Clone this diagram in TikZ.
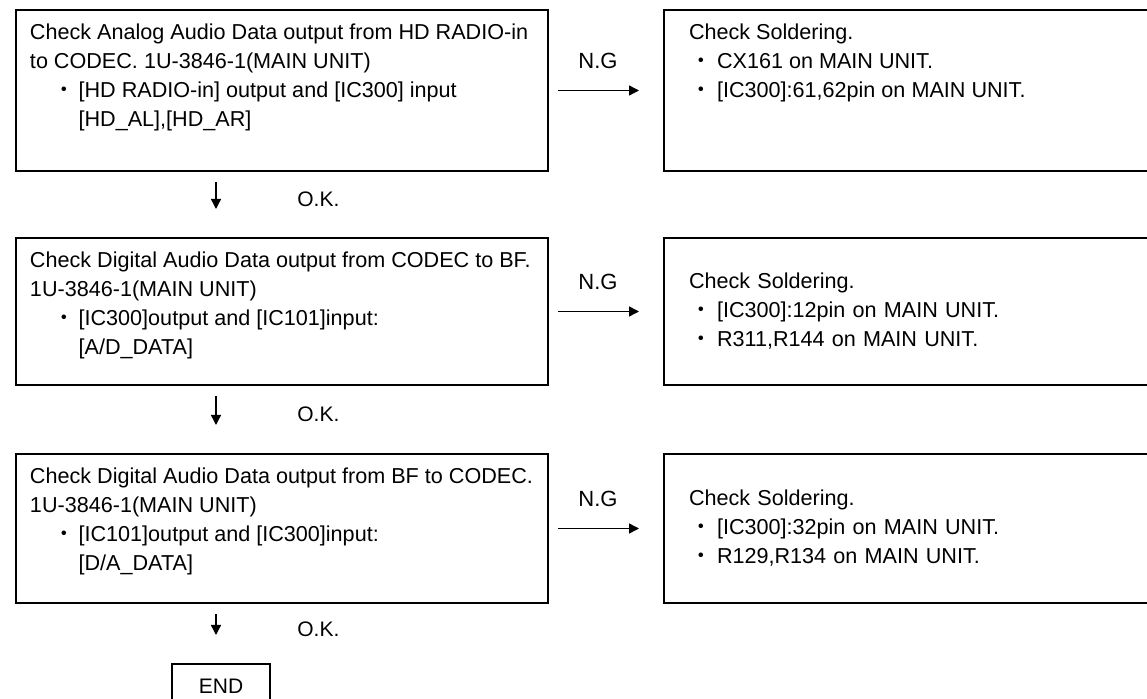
\documentclass[tikz,border=0pt]{standalone}
\usepackage{fontspec}
\setmainfont{Liberation Sans}
\newfontfamily\cjk{Noto Sans CJK JP}
\usetikzlibrary{arrows.meta}
\tikzset{
  checkbox/.style={draw, line width=1pt, anchor=north west, inner xsep=7pt, inner ysep=4.85pt,
    font=\fontsize{10.8}{14.5}\selectfont},
  fixbox/.style={draw, line width=1pt, anchor=north west, inner xsep=12.5pt, inner ysep=4.85pt,
    font=\fontsize{10.8}{14.5}\selectfont},
  endbox/.style={draw, line width=1pt, anchor=north west, minimum width=49pt, minimum height=22pt, inner sep=0pt},
  ngarrow/.style={-{Triangle[length=5pt,width=5pt]}, line width=0.7pt, shorten <=4.5pt, shorten >=12pt},
  okarrow/.style={-{Triangle[length=5pt,width=5pt]}, line width=0.7pt, shorten <=5pt, shorten >=14pt},
  nglabel/.style={pos=0.43, above=7pt, font=\fontsize{11}{13}\selectfont},
  oklabel/.style={pos=0.42, anchor=west, xshift=37pt},
}
\newcommand{\topbody}[3]{\parbox[t][#1][t]{#2}{\strut #3}}
\newcommand{\dotitem}{\hspace*{12pt}{\cjk ・}\hspace{1.5pt}}
\newcommand{\dotline}{\hspace*{24.3pt}}
\newcommand{\fixitem}{\hspace*{0.6pt}{\cjk ・}\hspace{2.6pt}}

\begin{document}
\begin{tikzpicture}[x=0.5pt, y=-0.5pt, font=\fontsize{10.5}{14.5}\selectfont]
  \useasboundingbox (0,0) rectangle (1147,699);
  % checks on the left
  \node[checkbox] (chk1) at (15,9) {\topbody{70.8pt}{252pt}{Check Analog Audio Data output from HD RADIO-in\\
    to CODEC. 1U-3846-1(MAIN UNIT)\\
    \dotitem [HD RADIO-in] output and [IC300] input\\
    \dotline [HD\_AL],[HD\_AR]}};
  \node[checkbox] (chk2) at (15,237) {\topbody{63.8pt}{252pt}{Check Digital Audio Data output from CODEC to BF.\\
    1U-3846-1(MAIN UNIT)\\
    \dotitem [IC300]output and [IC101]input:\\
    \dotline [A/D\_DATA]}};
  \node[checkbox] (chk3) at (15,453) {\topbody{64.8pt}{252pt}{Check Digital Audio Data output from BF to CODEC.\\
    1U-3846-1(MAIN UNIT)\\
    \dotitem [IC101]output and [IC300]input:\\
    \dotline [D/A\_DATA]}};
  \node[endbox] (done) at (171,663) {END};
  % fixes on the right
  \node[fixbox] (fix1) at (663,9) {\topbody{70.8pt}{220pt}{Check Soldering.\\
    \fixitem CX161 on MAIN UNIT.\\
    \fixitem [IC300]:61,62pin on MAIN UNIT.}};
  \node[fixbox, text width=220pt, align=left, minimum height=73.5pt] (fix2) at (663,237) {Check Soldering.\\
    \fixitem [IC300]:12pin on MAIN UNIT.\\
    \fixitem R311,R144 on MAIN UNIT.};
  \node[fixbox, text width=220pt, align=left, minimum height=74.5pt] (fix3) at (663,453) {Check Soldering.\\
    \fixitem [IC300]:32pin on MAIN UNIT.\\
    \fixitem R129,R134 on MAIN UNIT.};

  \coordinate (okcol) at (216,0);
  \draw[okarrow] (chk1.south -| okcol) -- node[oklabel] {O.K.} (chk2.north -| okcol);
  \draw[okarrow] (chk2.south -| okcol) -- node[oklabel] {O.K.} (chk3.north -| okcol);
  \draw[okarrow] (chk3.south -| okcol) -- node[oklabel] {O.K.} (done.north -| okcol);

  \draw[ngarrow] (chk1.east) -- node[nglabel] {N.G} (fix1.west);
  \draw[ngarrow] (chk2.east) -- node[nglabel] {N.G} (fix2.west);
  \draw[ngarrow] (chk3.east) -- node[nglabel] {N.G} (fix3.west);
\end{tikzpicture}
\end{document}
